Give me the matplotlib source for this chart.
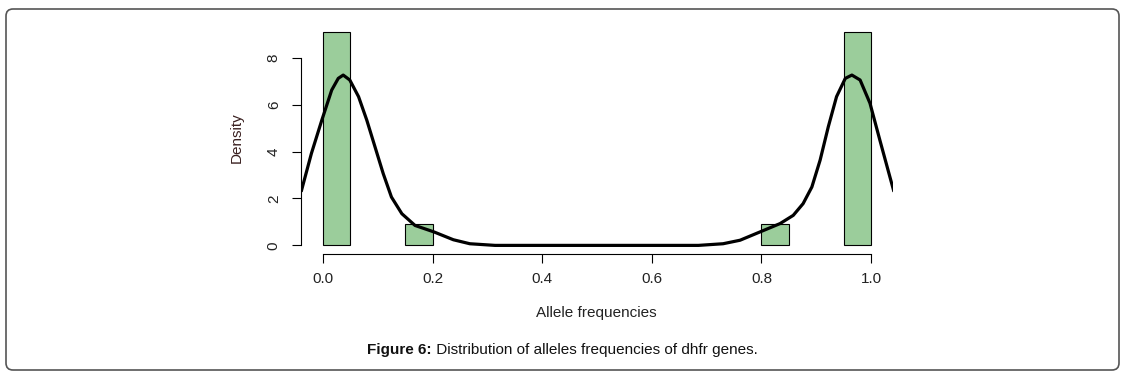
import numpy as np
import matplotlib
matplotlib.use("Agg")
import matplotlib.pyplot as plt
from matplotlib.patches import FancyBboxPatch
from matplotlib.transforms import IdentityTransform

plt.rcParams["font.family"] = ["Liberation Sans", "DejaVu Sans"]

# ==========================================
# Data
# ==========================================
bin_left = [0.00, 0.15, 0.80, 0.95]
bin_width = 0.05
bin_density = [9.09, 0.91, 0.91, 9.09]

curve_x = [-0.039, -0.021, -0.002, 0.016, 0.028, 0.037, 0.049, 0.065, 0.080,
           0.095, 0.110, 0.125, 0.144, 0.168, 0.203, 0.238, 0.268, 0.314,
           0.685, 0.730, 0.761, 0.797, 0.834, 0.858, 0.876, 0.892, 0.907,
           0.922, 0.937, 0.953, 0.965, 0.980, 0.998, 1.016, 1.041]
curve_y = [2.35, 3.92, 5.34, 6.62, 7.12, 7.26, 7.05, 6.34, 5.34,
           4.20, 3.06, 2.06, 1.35, 0.85, 0.57, 0.24, 0.07, 0.00,
           0.00, 0.07, 0.22, 0.57, 0.93, 1.28, 1.78, 2.49, 3.63,
           5.06, 6.34, 7.12, 7.26, 7.05, 6.06, 4.49, 2.35]

x_ticks = [0.0, 0.2, 0.4, 0.6, 0.8, 1.0]
y_ticks = [0, 2, 4, 6, 8]

# ==========================================
# Figure
# ==========================================
fig = plt.figure(figsize=(11.28, 3.8), dpi=100)
ax = fig.add_axes([301 / 1128, 1 - 254.3 / 380, 592 / 1128, (254.3 - 23.7) / 380])

ax.bar(bin_left, bin_density, width=bin_width, align="edge",
       color="#9BCD9B", edgecolor="black", linewidth=0.8, zorder=2)
ax.plot(curve_x, curve_y, color="black", linewidth=2.3, zorder=3,
        solid_joinstyle="round")

ax.set_xlim(-0.04, 1.04)
ax.set_ylim(-0.38, 9.45)

for side in ["top", "right"]:
    ax.spines[side].set_visible(False)
ax.spines["left"].set_bounds(0, 8)
ax.spines["bottom"].set_bounds(0, 1)
for side in ["left", "bottom"]:
    ax.spines[side].set_linewidth(0.8)

ax.set_xticks(x_ticks)
ax.set_xticklabels([f"{v:.1f}" for v in x_ticks])
ax.set_yticks(y_ticks)
ax.set_yticklabels([str(v) for v in y_ticks], rotation=90, va="center")
ax.tick_params(axis="both", direction="out", length=6.5, width=0.8,
               labelsize=11, labelcolor="#222222")
ax.tick_params(axis="x", pad=6)
ax.tick_params(axis="y", pad=8)

fig.text(596 / 1128, 1 - 313 / 380, "Allele frequencies", ha="center",
         va="center", fontsize=11, color="#222222")
fig.text(237 / 1128, 1 - 138 / 380, "Density", ha="center", va="center",
         rotation=90, fontsize=11, color="#3a2020")

# caption: bold prefix, then normal text right after it
cap = fig.text(367 / 1128, 1 - 350 / 380, "Figure 6:", ha="left",
               va="center", fontsize=11, fontweight="bold", color="#111111")
ax.annotate(" Distribution of alleles frequencies of dhfr genes.",
            xy=(1, 0.5), xycoords=cap, ha="left", va="center",
            fontsize=11, color="#111111", annotation_clip=False)

# rounded frame around the whole figure
frame = FancyBboxPatch((6, 10), 1113, 361,
                       boxstyle="round,pad=0,rounding_size=7",
                       transform=IdentityTransform(), facecolor="none",
                       edgecolor="#555555", linewidth=1.2)
fig.patches.append(frame)

fig.savefig("out.png", dpi=100)
